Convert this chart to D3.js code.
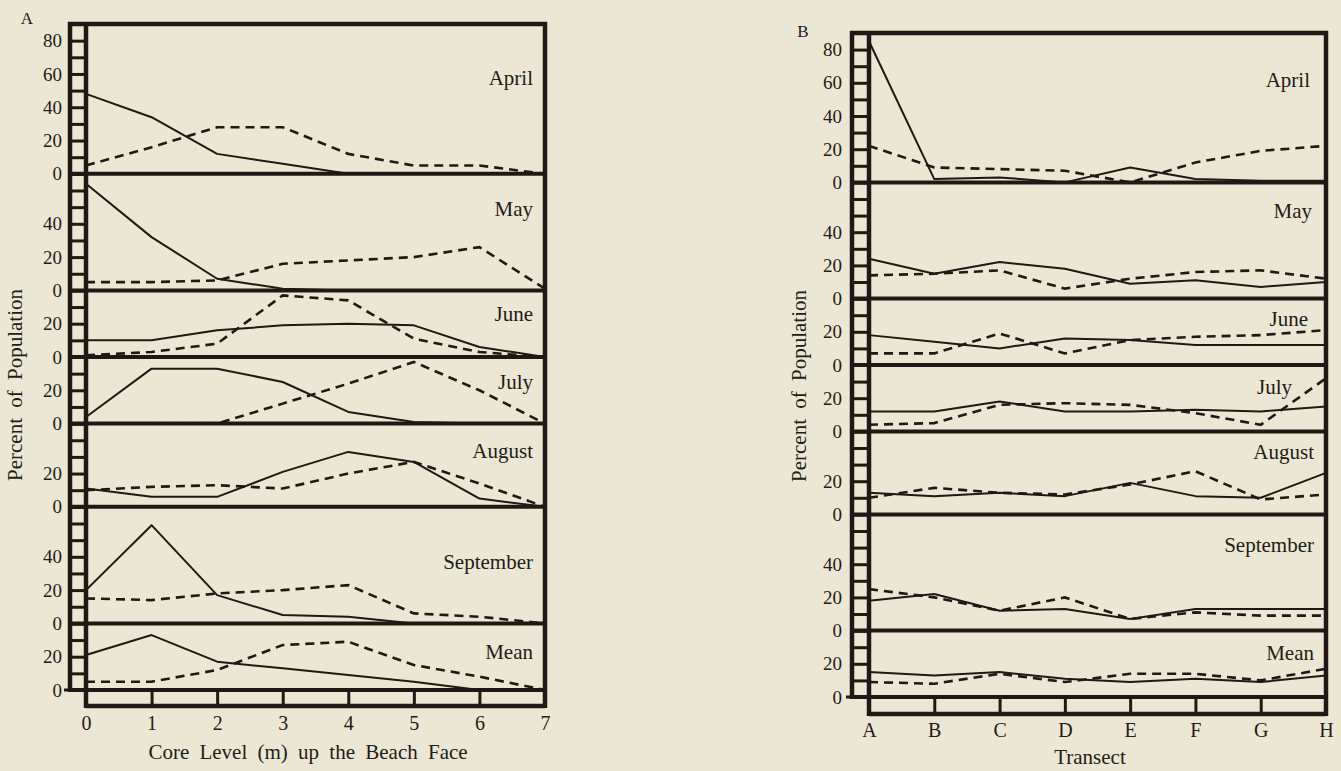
<!DOCTYPE html>
<html>
<head>
<meta charset="utf-8">
<script src="https://cdn.jsdelivr.net/npm/d3@7"></script>
<style>
  html, body { margin: 0; padding: 0; background: #ece7d4; }
  svg { display: block; }
  text { font-family: "Liberation Serif", "DejaVu Serif", serif; fill: #221b17; }
</style>
</head>
<body>
<svg id="chart" width="1341" height="771"></svg>
<script>
// months stacked top to bottom, same in both panels
var months = ["April", "May", "June", "July", "August", "September", "Mean"];
var panelMax = [90, 70, 40, 40, 50, 70, 40];
var panelTicks = [[0, 20, 40, 60, 80], [0, 20, 40], [0, 20], [0, 20], [0, 20], [0, 20, 40], [0, 20]];

// panel A : core level (m) 0..7
var coreLevels = [0, 1, 2, 3, 4, 5, 6, 7];
var solidA = [
  [48, 34, 12, 6, 0, 0, 0, 0],
  [64, 32, 7, 1, 0, 0, 0, 0],
  [10, 10, 16, 19, 20, 19, 6, 0],
  [4, 33, 33, 25, 7, 1, 0, 0],
  [11, 6, 6, 21, 33, 27, 5, 0],
  [20, 59, 17, 5, 4, 0, 0, 0],
  [21, 33, 17, 13, 9, 5, 0, 0]
];
var dashedA = [
  [5, 16, 28, 28, 12, 5, 5, 0],
  [5, 5, 6, 16, 18, 20, 26, 1],
  [1, 3, 8, 37, 34, 11, 3, 0],
  [0, 0, 0, 12, 24, 37, 20, 0],
  [10, 12, 13, 11, 20, 27, 14, 0],
  [15, 14, 18, 20, 23, 6, 4, 0],
  [5, 5, 12, 27, 29, 15, 8, 0]
];
var labelAtA = [58, 49, 26, 25, 34, 37, 23];
var labelInsetA = [12, 12, 12, 12, 12, 12, 12];

// panel B : transects A..H
var transects = ["A", "B", "C", "D", "E", "F", "G", "H"];
var solidB = [
  [85, 2, 3, 0, 9, 2, 1, 1],
  [24, 15, 22, 18, 9, 11, 7, 10],
  [18, 14, 10, 16, 15, 12, 12, 12],
  [12, 12, 18, 12, 12, 13, 12, 15],
  [13, 11, 13, 11, 19, 11, 10, 25],
  [18, 22, 12, 13, 7, 13, 13, 13],
  [15, 13, 15, 11, 9, 11, 9, 13]
];
var dashedB = [
  [22, 9, 8, 7, 0, 12, 19, 22],
  [14, 15, 17, 6, 12, 16, 17, 12],
  [7, 7, 19, 7, 15, 17, 18, 21],
  [4, 5, 16, 17, 16, 11, 4, 32],
  [10, 16, 13, 12, 18, 26, 9, 12],
  [25, 20, 12, 20, 7, 11, 9, 9],
  [9, 8, 14, 9, 14, 14, 10, 17]
];
var labelAtB = [62, 53, 28, 27, 38, 52, 27];
var labelInsetB = [16, 14, 18, 34, 12, 12, 12];

var ink = "#1f1814";
var svg = d3.select("#chart");

function drawPanel(cfg) {
    var g = svg.append("g");
    var totalUnits = d3.sum(panelMax);
    var yAll = d3.scaleLinear().domain([0, totalUnits]).range([cfg.top, cfg.bottom]);

    var x = d3.scalePoint().domain(cfg.cats).range([cfg.inner, cfg.right]);

    var line = d3.line()
        .x(function (d, i) { return x(cfg.cats[i]); })
        .y(function (d) { return d; });

    var offset = 0;
    months.forEach(function (m, i) {
        var y = d3.scaleLinear()
            .domain([0, panelMax[i]])
            .range([yAll(offset + panelMax[i]), yAll(offset)]);
        offset += panelMax[i];

        // ladder rungs every 10 units
        var rungs = g.append("g")
            .attr("transform", "translate(" + cfg.inner + ",0)")
            .call(d3.axisLeft(y).tickValues(d3.range(0, panelMax[i] + 1, 10))
                .tickSize(cfg.inner - cfg.outer).tickFormat(""));
        rungs.select(".domain").remove();
        rungs.selectAll("line").attr("stroke", ink).attr("stroke-width", 3);

        // tick labels
        var lab = g.append("g")
            .attr("transform", "translate(" + cfg.labelX + ",0)")
            .call(d3.axisLeft(y).tickValues(panelTicks[i]).tickSize(0).tickPadding(0));
        lab.select(".domain").remove();
        lab.selectAll("text")
            .attr("font-size", 19)
            .attr("font-family", "Liberation Serif, serif")
            .attr("fill", ink);

        // zero line of each sub panel
        g.append("line")
            .attr("x1", cfg.outer).attr("x2", cfg.right)
            .attr("y1", y(0)).attr("y2", y(0))
            .attr("stroke", ink).attr("stroke-width", 4);

        g.append("path")
            .datum(cfg.solid[i].map(function (v) { return y(v); }))
            .attr("d", line)
            .attr("fill", "none").attr("stroke", ink)
            .attr("stroke-width", 2).attr("stroke-linejoin", "round");

        g.append("path")
            .datum(cfg.dashed[i].map(function (v) { return y(v); }))
            .attr("d", line)
            .attr("fill", "none").attr("stroke", ink)
            .attr("stroke-width", 2.6).attr("stroke-dasharray", "9,6");

        g.append("text")
            .attr("x", cfg.right - cfg.labelInset[i])
            .attr("y", y(cfg.labelAt[i]))
            .attr("dy", "0.35em")
            .attr("text-anchor", "end")
            .attr("font-size", 21)
            .text(m);
    });

    // top border
    g.append("line")
        .attr("x1", cfg.outer - 2).attr("x2", cfg.right + 2)
        .attr("y1", cfg.top).attr("y2", cfg.top)
        .attr("stroke", ink).attr("stroke-width", 4.5);

    // left ladder uprights
    [cfg.outer, cfg.inner].forEach(function (lx, k) {
        g.append("line")
            .attr("x1", lx).attr("x2", lx)
            .attr("y1", cfg.top - 2).attr("y2", k == 0 ? cfg.bottom + 2 : cfg.bottom + cfg.ladder + 2)
            .attr("stroke", ink).attr("stroke-width", 4.5);
    });
    // small foot at the bottom of the outer upright
    g.append("line")
        .attr("x1", cfg.outer - 6).attr("x2", cfg.outer)
        .attr("y1", cfg.bottom).attr("y2", cfg.bottom)
        .attr("stroke", ink).attr("stroke-width", 3);

    // right border
    g.append("line")
        .attr("x1", cfg.right).attr("x2", cfg.right)
        .attr("y1", cfg.top - 2).attr("y2", cfg.bottom + cfg.ladder + 2)
        .attr("stroke", ink).attr("stroke-width", 4.5);

    // bottom ladder with category ticks
    var xa = g.append("g")
        .attr("transform", "translate(0," + cfg.bottom + ")")
        .call(d3.axisBottom(x).tickSize(cfg.ladder).tickPadding(cfg.xPad));
    xa.select(".domain").remove();
    xa.selectAll("line").attr("stroke", ink).attr("stroke-width", 3);
    xa.selectAll("text")
        .attr("font-size", 20)
        .attr("font-family", "Liberation Serif, serif")
        .attr("fill", ink);

    g.append("line")
        .attr("x1", cfg.inner).attr("x2", cfg.right)
        .attr("y1", cfg.bottom + cfg.ladder).attr("y2", cfg.bottom + cfg.ladder)
        .attr("stroke", ink).attr("stroke-width", 4.5);

    // titles
    g.append("text")
        .attr("x", cfg.xTitleX).attr("y", cfg.xTitleY)
        .attr("text-anchor", "middle")
        .attr("font-size", 21)
        .style("word-spacing", "5px")
        .text(cfg.xTitle);

    g.append("text")
        .attr("transform", "translate(" + cfg.yTitleX + "," + cfg.yTitleY + ") rotate(-90)")
        .attr("text-anchor", "middle")
        .attr("font-size", 21)
        .style("word-spacing", "5px")
        .text("Percent of Population");

    g.append("text")
        .attr("x", cfg.letterX).attr("y", cfg.letterY)
        .attr("text-anchor", "middle")
        .attr("font-size", 17)
        .text(cfg.letter);
}

drawPanel({
    letter: "A", letterX: 27, letterY: 24,
    outer: 70, inner: 86, right: 545, top: 24, bottom: 690, ladder: 16,
    labelX: 62, xPad: 10,
    cats: coreLevels, solid: solidA, dashed: dashedA,
    labelAt: labelAtA, labelInset: labelInsetA,
    xTitle: "Core Level (m) up the Beach Face", xTitleX: 308, xTitleY: 759,
    yTitleX: 22, yTitleY: 385
});

drawPanel({
    letter: "B", letterX: 803, letterY: 37,
    outer: 852, inner: 869, right: 1326, top: 33, bottom: 697, ladder: 17,
    labelX: 842, xPad: 9,
    cats: transects, solid: solidB, dashed: dashedB,
    labelAt: labelAtB, labelInset: labelInsetB,
    xTitle: "Transect", xTitleX: 1090, xTitleY: 764,
    yTitleX: 806, yTitleY: 386
});
</script>
</body>
</html>
